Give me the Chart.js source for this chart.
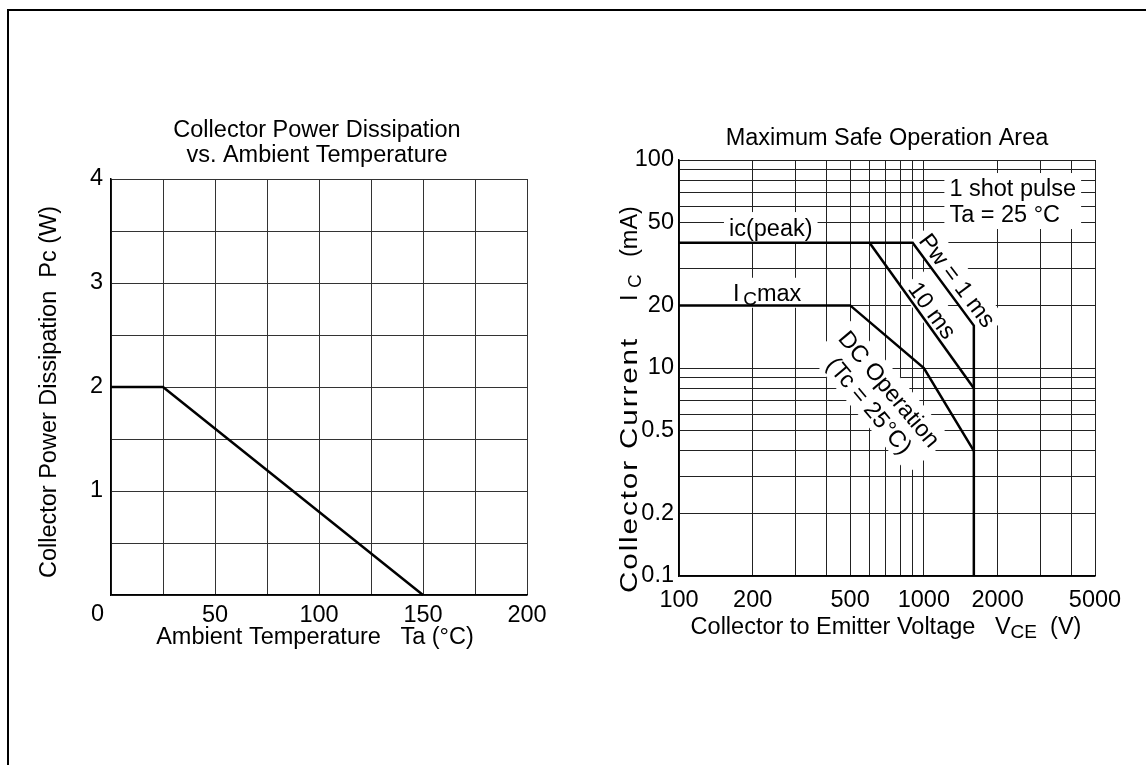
<!DOCTYPE html>
<html>
<head>
<meta charset="utf-8">
<script src="https://cdn.jsdelivr.net/npm/chart.js"></script>
<style>
    body { margin: 0; background: #fff; }
    #page { position: relative; width: 1146px; height: 765px; overflow: hidden; }
    #frame { position: absolute; left: 7px; top: 9px; right: -10px; bottom: -10px; border-top: 2px solid #000; border-left: 2px solid #000; }
    canvas { position: absolute; top: 0; }
    #pdChart { left: 0; }
    #soaChart { left: 573px; }
</style>
</head>
<body>
<div id="page">
    <div id="frame"></div>
    <canvas id="pdChart" width="573" height="765"></canvas>
    <canvas id="soaChart" width="573" height="765"></canvas>
</div>

<script>
    // ---- Collector power dissipation vs. ambient temperature ----
    const taValues = [0, 25, 150];          // Ta (°C)
    const pcValues = [2, 2, 0];             // Pc (W)
    const taTickLabels = [50, 100, 150, 200];
    const pcTickLabels = [1, 2, 3, 4];

    // ---- Maximum safe operation area (positions on the log grid) ----
    const vce1ms = [100, 900, 1600, 1600];
    const ic1ms = [40, 40, 16, 1];
    const vce10ms = [600, 1600];
    const ic10ms = [40, 8];
    const vceDc = [100, 500, 1000, 1600];
    const icDc = [20, 20, 10, 4];

    const vceGrid = [100, 200, 300, 400, 500, 600, 700, 800, 900, 1000, 2000, 3000, 4000, 5000];
    const vceTickLabels = [100, 200, 500, 1000, 2000, 5000];
    const icGrid = [1, 2, 3, 4, 5, 6, 7, 8, 9, 10, 20, 30, 40, 50, 60, 70, 80, 90, 100];
    const icTickValues = [1, 2, 5, 10, 20, 50, 100];
    const icTickText = ['0.1', '0.2', '0.5', '10', '20', '50', '100'];

    const FONT = '"Liberation Sans", Arial, Helvetica, sans-serif';
    const FS = 23.5;
    const SUB = 19;

    function font(sz) { return sz + 'px ' + FONT; }

    // segs: [[text, isSubscript], ...]
    function richWidth(ctx, segs) {
        let w = 0;
        segs.forEach(s => { ctx.font = font(s[1] ? SUB : FS); w += ctx.measureText(s[0]).width; });
        return w;
    }

    function drawRich(ctx, segs, x, y, align) {
        const w = richWidth(ctx, segs);
        let cx = align === 'center' ? x - w / 2 : x;
        ctx.textAlign = 'left';
        ctx.textBaseline = 'alphabetic';
        segs.forEach(s => {
            ctx.font = font(s[1] ? SUB : FS);
            ctx.fillText(s[0], cx, y + (s[1] ? 4 : 0));
            cx += ctx.measureText(s[0]).width;
        });
    }

    // text label with white backing, rotated around its centre
    function boxLabel(ctx, px, py, angle, lines, align) {
        const lh = 26;
        ctx.save();
        ctx.translate(px, py);
        ctx.rotate(angle * Math.PI / 180);
        const widths = lines.map(l => richWidth(ctx, l));
        const w = Math.max(...widths);
        const h = lh * lines.length;
        ctx.fillStyle = '#fff';
        ctx.fillRect(-w / 2 - 5, -h / 2 - 2, w + 10, h + 4);
        ctx.fillStyle = '#000';
        lines.forEach((l, i) => {
            const base = -h / 2 + lh * i + lh / 2 + FS * 0.36;
            const x0 = align === 'left' ? -w / 2 : -widths[i] / 2;
            drawRich(ctx, l, x0, base, 'left');
        });
        ctx.restore();
    }

    function rotatedText(ctx, segs, x, y) {
        ctx.save();
        ctx.translate(x, y);
        ctx.rotate(-Math.PI / 2);
        ctx.fillStyle = '#000';
        drawRich(ctx, segs, 0, FS * 0.36, 'center');
        ctx.restore();
    }

    const tickFont = { family: FONT, size: FS };

    // ---------------- left chart ----------------
    const pdText = {
        id: 'pdText',
        afterDraw(chart) {
            const ctx = chart.ctx;
            ctx.save();
            ctx.fillStyle = '#000';
            drawRich(ctx, [['Collector Power Dissipation']], 317, 137, 'center');
            drawRich(ctx, [['vs. Ambient Temperature']], 317, 162, 'center');
            drawRich(ctx, [['Ambient Temperature   Ta (°C)']], 315, 644, 'center');
            ctx.font = font(FS);
            ctx.textAlign = 'right';
            ctx.fillText('0', 104, 621);
            rotatedText(ctx, [['Collector Power Dissipation  Pc (W)']], 48, 392);
            ctx.restore();
        }
    };

    new Chart(document.getElementById('pdChart'), {
        type: 'line',
        data: {
            datasets: [{
                data: taValues.map((t, i) => ({ x: t, y: pcValues[i] })),
                borderColor: '#000',
                borderWidth: 2.5,
                pointRadius: 0,
                tension: 0,
                clip: false
            }]
        },
        options: {
            responsive: false,
            animation: false,
            layout: { padding: { left: 0, top: 179, right: 46, bottom: 120 } },
            plugins: { legend: { display: false }, title: { display: false }, tooltip: { enabled: false } },
            scales: {
                x: {
                    type: 'linear', min: 0, max: 200,
                    afterFit: s => { s.height = 50; },
                    grid: { color: '#333', lineWidth: 1, drawTicks: false },
                    border: { color: '#000', width: 1.5 },
                    ticks: {
                        stepSize: 25, autoSkip: false, maxRotation: 0, padding: 6,
                        color: '#000', font: tickFont,
                        callback: v => taTickLabels.includes(v) ? String(v) : ''
                    }
                },
                y: {
                    type: 'linear', min: 0, max: 4,
                    afterFit: s => { s.width = 111; },
                    grid: { color: '#333', lineWidth: 1, drawTicks: false },
                    border: { color: '#000', width: 1.5 },
                    ticks: {
                        stepSize: 0.5, autoSkip: false, padding: 8,
                        color: '#000', font: tickFont,
                        callback: v => pcTickLabels.includes(v) ? String(v) : ''
                    }
                }
            }
        },
        plugins: [pdText]
    });

    // ---------------- right chart ----------------
    // y title of the SOA chart: the words are set wide in the original
    function soaYTitle(ctx, x, yBottom) {
        ctx.save();
        ctx.translate(x, yBottom);
        ctx.rotate(-Math.PI / 2);
        ctx.fillStyle = '#000';
        ctx.textAlign = 'left';
        ctx.textBaseline = 'alphabetic';
        const base = FS * 0.36;
        ctx.font = font(FS);
        ctx.save();
        ctx.letterSpacing = '1.5px';
        const w = ctx.measureText('Collector Current').width;
        ctx.scale(256 / w, 1);
        ctx.fillText('Collector Current', 0, base);
        ctx.restore();
        ctx.fillText('I', 292, base);
        ctx.font = font(SUB);
        ctx.fillText('C', 305, base + 4);
        ctx.font = font(FS);
        ctx.fillText('(mA)', 336, base);
        ctx.restore();
    }

    const soaText = {
        id: 'soaText',
        beforeDatasetsDraw(chart) {
            const ctx = chart.ctx;
            const x = chart.scales.x, y = chart.scales.y;
            const at = (v, i) => [x.getPixelForValue(v), y.getPixelForValue(i)];
            ctx.save();
            let p = at(237, 47.6);
            boxLabel(ctx, p[0], p[1], 0, [[['ic(peak)']]]);
            p = at(229, 23);
            boxLabel(ctx, p[0], p[1], 0, [[['I'], ['\u2009C', true], ['max']]]);
            p = at(2307, 63.5);
            boxLabel(ctx, p[0], p[1], 0, [[['1 shot pulse']], [['Ta = 25 °C']]], 'left');
            p = at(1377, 26.5);
            boxLabel(ctx, p[0], p[1], 53, [[['Pw = 1 ms']]]);
            p = at(1088, 19);
            boxLabel(ctx, p[0], p[1], 54, [[['10 ms']]]);
            p = at(661, 7.26);
            boxLabel(ctx, p[0], p[1], 50, [[['DC Operation']], [['(Tc = 25°C)']]]);
            ctx.restore();
        },
        afterDraw(chart) {
            const ctx = chart.ctx;
            ctx.save();
            ctx.fillStyle = '#000';
            drawRich(ctx, [['Maximum Safe Operation Area']], 314, 145, 'center');
            drawRich(ctx, [['Collector to Emitter Voltage   V'], ['CE', true], ['  (V)']], 313, 634, 'center');
            soaYTitle(ctx, 56, 593);
            ctx.restore();
        }
    };

    const lineStyle = { borderColor: '#000', borderWidth: 2.5, pointRadius: 0, tension: 0, clip: false };

    new Chart(document.getElementById('soaChart'), {
        type: 'line',
        data: {
            datasets: [
                Object.assign({ label: 'Pw = 1 ms', data: vce1ms.map((v, i) => ({ x: v, y: ic1ms[i] })) }, lineStyle),
                Object.assign({ label: '10 ms', data: vce10ms.map((v, i) => ({ x: v, y: ic10ms[i] })) }, lineStyle),
                Object.assign({ label: 'DC', data: vceDc.map((v, i) => ({ x: v, y: icDc[i] })) }, lineStyle)
            ]
        },
        options: {
            responsive: false,
            animation: false,
            layout: { padding: { left: 0, top: 160, right: 51, bottom: 139 } },
            plugins: { legend: { display: false }, title: { display: false }, tooltip: { enabled: false } },
            scales: {
                x: {
                    type: 'logarithmic', min: 100, max: 5000,
                    afterFit: s => { s.height = 50; },
                    afterBuildTicks: s => { s.ticks = vceGrid.map(v => ({ value: v })); },
                    grid: { color: '#222', lineWidth: 1, drawTicks: false },
                    border: { color: '#000', width: 1.5 },
                    ticks: {
                        autoSkip: false, maxRotation: 0, padding: 10,
                        color: '#000', font: tickFont,
                        callback: v => vceTickLabels.includes(v) ? String(v) : ''
                    }
                },
                y: {
                    type: 'logarithmic', min: 1, max: 100,
                    afterFit: s => { s.width = 106; },
                    afterBuildTicks: s => { s.ticks = icGrid.map(v => ({ value: v })); },
                    grid: { color: '#222', lineWidth: 1, drawTicks: false },
                    border: { color: '#000', width: 1.5 },
                    ticks: {
                        autoSkip: false, padding: 5,
                        color: '#000', font: tickFont,
                        callback: v => {
                            const k = icTickValues.indexOf(v);
                            return k >= 0 ? icTickText[k] : '';
                        }
                    }
                }
            }
        },
        plugins: [soaText]
    });
</script>
</body>
</html>
